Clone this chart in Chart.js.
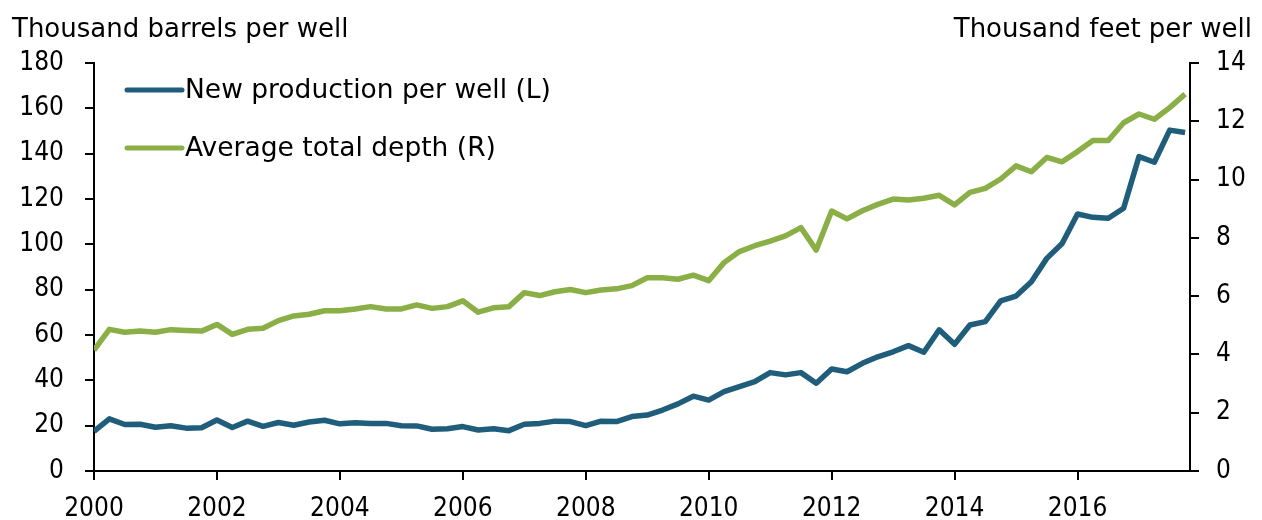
<!DOCTYPE html>
<html>
<head>
<meta charset="utf-8">
<script src="https://cdn.jsdelivr.net/npm/chart.js@4.4.0/dist/chart.umd.min.js"></script>
<style>
  html, body { margin: 0; padding: 0; background: #fff; }
</style>
</head>
<body>
<canvas id="chart" width="1262" height="520"></canvas>
<script>
// Quarterly categories, 2000 Q1 .. 2017 Q4
const quarters = [];
for (let y = 2000; y <= 2017; y++) {
    for (let q = 1; q <= 4; q++) quarters.push(y + ' Q' + q);
}

// Thousand barrels per well (left axis)
const production = [
    17.5, 23.0, 20.5, 20.6, 19.3, 20.0, 18.9, 19.1,
    22.5, 19.2, 22.0, 19.7, 21.4, 20.2, 21.6, 22.4,
    20.8, 21.3, 21.0, 21.0, 20.0, 19.9, 18.4, 18.6,
    19.6, 18.1, 18.6, 17.8, 20.6, 21.0, 22.0, 21.8,
    20.0, 22.0, 21.8, 24.0, 24.7, 26.9, 29.6, 33.0,
    31.3, 35.0, 37.2, 39.4, 43.4, 42.4, 43.4, 38.7,
    45.0, 43.8, 47.5, 50.4, 52.6, 55.3, 52.4, 62.3,
    55.9, 64.4, 65.9, 75.1, 77.2, 83.5, 93.8, 100.4,
    113.4, 111.9, 111.5, 115.9, 138.7, 136.2, 150.4, 149.3
];

// Thousand feet per well (right axis)
const depth = [
    4.15, 4.86, 4.76, 4.80, 4.76, 4.85, 4.82, 4.80,
    5.03, 4.69, 4.86, 4.90, 5.16, 5.32, 5.38, 5.50,
    5.50, 5.56, 5.64, 5.56, 5.56, 5.70, 5.58, 5.64,
    5.84, 5.45, 5.60, 5.64, 6.12, 6.02, 6.15, 6.23,
    6.12, 6.21, 6.25, 6.36, 6.63, 6.63, 6.58, 6.72,
    6.53, 7.15, 7.53, 7.73, 7.89, 8.07, 8.35, 7.58,
    8.92, 8.65, 8.93, 9.15, 9.33, 9.30, 9.36, 9.46,
    9.13, 9.56, 9.70, 10.02, 10.47, 10.27, 10.76, 10.61,
    10.96, 11.34, 11.34, 11.95, 12.25, 12.07, 12.47, 12.93
];

const yearTicks = [2000, 2002, 2004, 2006, 2008, 2010, 2012, 2014, 2016];
const leftTicks = [0, 20, 40, 60, 80, 100, 120, 140, 160, 180];
const rightTicks = [0, 2, 4, 6, 8, 10, 12, 14];

const BLUE = '#1f5d7a';
const GREEN = '#8aaf46';
const FONT = "'DejaVu Sans', sans-serif";
const TICK_FONT = "'DejaVu Sans Condensed', 'DejaVu Sans', sans-serif";

// "2003 Q2" -> 2003.25
function quarterPos(label) {
    const parts = label.split(' Q');
    return parseInt(parts[0]) + (parseInt(parts[1]) - 1) / 4;
}

function toPoints(values) {
    return values.map((v, i) => ({ x: quarterPos(quarters[i]), y: v }));
}

// axis titles and the in-plot legend
const decorations = {
    id: 'decorations',
    afterDraw(chart) {
        const ctx = chart.ctx;
        ctx.save();
        ctx.fillStyle = '#000';
        ctx.font = '26px ' + FONT;
        ctx.textBaseline = 'alphabetic';
        ctx.textAlign = 'left';
        ctx.fillText('Thousand barrels per well', 12, 37);
        ctx.textAlign = 'right';
        ctx.fillText('Thousand feet per well', 1252, 37);

        ctx.font = '26.5px ' + FONT;
        ctx.textAlign = 'left';
        ctx.textBaseline = 'middle';
        chart.data.datasets.forEach((ds, i) => {
            const y = 90 + i * 58;
            ctx.strokeStyle = ds.borderColor;
            ctx.lineWidth = 5;
            ctx.lineCap = 'round';
            ctx.beginPath();
            ctx.moveTo(127, y);
            ctx.lineTo(182, y);
            ctx.stroke();
            ctx.fillStyle = '#000';
            ctx.fillText(ds.label, 185, y + 1);
        });
        ctx.restore();
    }
};

const axisGrid = {
    display: true,
    drawOnChartArea: false,
    drawTicks: true,
    tickLength: 9,
    color: '#000',
    lineWidth: 2
};

new Chart(document.getElementById('chart'), {
    type: 'line',
    data: {
        datasets: [
            {
                label: 'New production per well (L)',
                data: toPoints(production),
                yAxisID: 'yL',
                borderColor: BLUE,
                borderWidth: 5.5,
                borderJoinStyle: 'round',
                pointRadius: 0,
                tension: 0
            },
            {
                label: 'Average total depth (R)',
                data: toPoints(depth),
                yAxisID: 'yR',
                borderColor: GREEN,
                borderWidth: 5.5,
                borderJoinStyle: 'round',
                pointRadius: 0,
                tension: 0
            }
        ]
    },
    options: {
        responsive: false,
        animation: false,
        devicePixelRatio: 1,
        layout: { padding: { top: 63, left: 0, right: 0, bottom: 0 } },
        plugins: {
            legend: { display: false },
            tooltip: { enabled: false }
        },
        scales: {
            x: {
                type: 'linear',
                min: 2000,
                max: 2017.83,
                afterBuildTicks: s => { s.ticks = yearTicks.map(v => ({ value: v })); },
                afterFit: s => { s.height = 49; },
                ticks: {
                    color: '#000',
                    font: { family: TICK_FONT, size: 26 },
                    padding: 14,
                    maxRotation: 0,
                    autoSkip: false,
                    callback: v => String(v)
                },
                grid: axisGrid,
                border: { color: '#000', width: 2 }
            },
            yL: {
                position: 'left',
                min: 0,
                max: 180,
                afterBuildTicks: s => { s.ticks = leftTicks.map(v => ({ value: v })); },
                afterFit: s => { s.width = 94; },
                ticks: {
                    color: '#000',
                    font: { family: TICK_FONT, size: 26 },
                    padding: 21
                },
                grid: axisGrid,
                border: { color: '#000', width: 2 }
            },
            yR: {
                position: 'right',
                min: 0,
                max: 14,
                afterBuildTicks: s => { s.ticks = rightTicks.map(v => ({ value: v })); },
                afterFit: s => { s.width = 72; },
                ticks: {
                    color: '#000',
                    font: { family: TICK_FONT, size: 26 },
                    padding: 17
                },
                grid: axisGrid,
                border: { color: '#000', width: 2 }
            }
        }
    },
    plugins: [decorations]
});
</script>
</body>
</html>
